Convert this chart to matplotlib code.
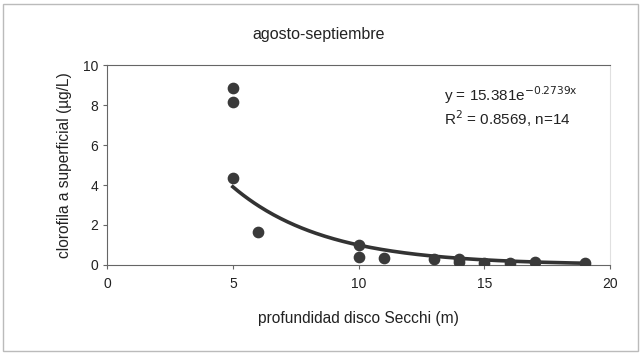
import numpy as np
import matplotlib
matplotlib.use("Agg")
import matplotlib.pyplot as plt
from matplotlib.patches import Rectangle

plt.rcParams['font.family'] = ['Liberation Sans', 'DejaVu Sans']

# secchi depth (m) vs surface chlorophyll a (ug/L)
secchi = [5, 5, 5, 6, 10, 10, 11, 13, 14, 14, 15, 16, 17, 19]
clorofila = [8.85, 8.15, 4.35, 1.65, 1.0, 0.4, 0.35, 0.3, 0.3, 0.15, 0.1, 0.1, 0.15, 0.1]
coef_a = 15.381
coef_b = -0.2739

fig = plt.figure(figsize=(6.41, 3.58), dpi=100)
ax = fig.add_axes([0.167, 0.26, 0.785, 0.558])

xfit = np.linspace(min(secchi), max(secchi), 200)
ax.plot(xfit, coef_a * np.exp(coef_b * xfit), color='#333333', lw=2.6, zorder=2)
ax.scatter(secchi, clorofila, s=55, color='#3a3a3a', zorder=3)

ax.set_xlim(0, 20)
ax.set_ylim(0, 10)
ax.set_xticks([0, 5, 10, 15, 20])
ax.set_yticks([0, 2, 4, 6, 8, 10])
ax.tick_params(labelsize=10, length=3, color='#666666', labelcolor='#222222')
ax.tick_params(axis='x', pad=6)
for s in ['left', 'bottom', 'top']:
    ax.spines[s].set_color('#666666')
ax.spines['right'].set_color('#e0e0e0')

ax.set_xlabel('profundidad disco Secchi (m)', fontsize=11.2, color='#222222', labelpad=14)
ax.set_ylabel('clorofila a superficial (µg/L)', fontsize=11.2, color='#222222', labelpad=8)

ax.text(0.67, 0.82, 'y = 15.381e$^{\\mathrm{-0.2739x}}$', transform=ax.transAxes, fontsize=11, color='#222222')
ax.text(0.67, 0.70, 'R$^2$ = 0.8569, n=14', transform=ax.transAxes, fontsize=11, color='#222222')

fig.text(0.497, 0.89, 'agosto-septiembre', ha='center', fontsize=11.5, color='#222222')

fig.patches.append(Rectangle((0.005, 0.02), 0.99, 0.97, transform=fig.transFigure,
                             fill=False, edgecolor='#bbbbbb', lw=1))

fig.savefig('out.png', dpi=100)
